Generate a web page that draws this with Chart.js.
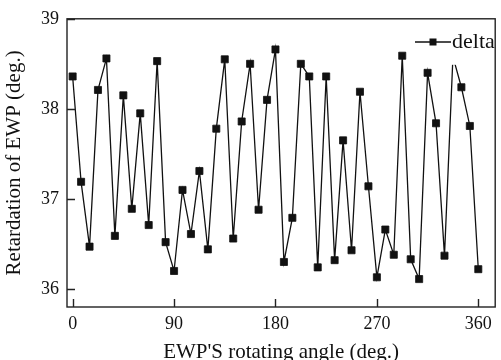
<!DOCTYPE html>
<html>
<head>
<meta charset="utf-8">
<script src="https://cdn.jsdelivr.net/npm/chart.js@4.4.1/dist/chart.umd.min.js"></script>
<style>
  html, body { margin: 0; padding: 0; background: #fff; }
  #wrap { width: 501px; height: 360px; position: relative; }
</style>
</head>
<body>
<div id="wrap"><canvas id="chart"></canvas></div>
<script>
const ANGLES = [0, 7.5, 15, 22.5, 30, 37.5, 45, 52.5, 60, 67.5, 75, 82.5, 90, 97.5, 105, 112.5,
    120, 127.5, 135, 142.5, 150, 157.5, 165, 172.5, 180, 187.5, 195, 202.5, 210, 217.5, 225, 232.5,
    240, 247.5, 255, 262.5, 270, 277.5, 285, 292.5, 300, 307.5, 315, 322.5, 330, 337.5, 345, 352.5, 360];
const DELTA = [38.36, 37.19, 36.47, 38.21, 38.56, 36.59, 38.15, 36.89, 37.95, 36.71, 38.53, 36.52,
    36.20, 37.10, 36.61, 37.31, 36.44, 37.78, 38.55, 36.56, 37.86, 38.50, 36.88, 38.10, 38.66, 36.30,
    36.79, 38.50, 38.36, 36.24, 38.36, 36.32, 37.65, 36.43, 38.19, 37.14, 36.13, 36.66, 36.38, 38.59,
    36.33, 36.11, 38.40, 37.84, 36.37, 38.58, 38.24, 37.81, 36.22];
const X_TICKS = [0, 90, 180, 270, 360];
const Y_TICKS = [36, 37, 38, 39];
const SERIES_LABEL = 'delta';

const FONT = 'Liberation Serif, Times New Roman, serif';
const INK = '#111';

// inward ticks, closed box and the in-plot legend
const framePlugin = {
    id: 'frame',
    afterDraw(chart) {
        const { ctx, chartArea: a, scales: { x, y } } = chart;
        ctx.save();

        // legend: white patch hides the line underneath, like the original
        const lx = 415, ly = 42;
        ctx.fillStyle = '#fff';
        ctx.fillRect(410, a.top + 2, a.right - 411, 44);
        ctx.strokeStyle = INK;
        ctx.lineWidth = 1.3;
        ctx.beginPath();
        ctx.moveTo(lx, ly); ctx.lineTo(lx + 36, ly);
        ctx.stroke();
        ctx.fillStyle = INK;
        ctx.fillRect(lx + 14.5, ly - 3.5, 7, 7);
        ctx.font = '22px ' + FONT;
        ctx.textBaseline = 'middle';
        ctx.fillText(SERIES_LABEL, lx + 37, ly);

        ctx.strokeStyle = '#222';
        ctx.lineWidth = 1.4;
        ctx.strokeRect(a.left, a.top, a.right - a.left, a.bottom - a.top);
        ctx.beginPath();
        X_TICKS.forEach(v => {
            const px = Math.round(x.getPixelForValue(v)) + 0.5;
            ctx.moveTo(px, a.bottom); ctx.lineTo(px, a.bottom - 8);
        });
        Y_TICKS.forEach(v => {
            const py = Math.round(y.getPixelForValue(v)) + 0.5;
            ctx.moveTo(a.left, py); ctx.lineTo(a.left + 8, py);
        });
        ctx.stroke();
        ctx.restore();
    }
};

new Chart(document.getElementById('chart'), {
    type: 'line',
    data: {
        datasets: [{
            label: SERIES_LABEL,
            data: ANGLES.map((a, i) => ({ x: a, y: DELTA[i] })),
            borderColor: INK,
            borderWidth: 1.3,
            backgroundColor: INK,
            pointStyle: 'rect',
            pointRadius: 5,
            pointBorderWidth: 0.8,
            pointBorderColor: INK,
            pointBackgroundColor: INK,
            tension: 0,
            fill: false
        }]
    },
    options: {
        responsive: true,
        maintainAspectRatio: false,
        animation: false,
        layout: { padding: { top: 17, right: 4, left: 0, bottom: 0 } },
        plugins: {
            legend: { display: false },
            tooltip: { enabled: false }
        },
        scales: {
            x: {
                type: 'linear',
                min: -5,
                max: 375,
                afterBuildTicks: s => { s.ticks = X_TICKS.map(v => ({ value: v })); },
                afterFit: s => { s.height = 53; },
                grid: { display: false, drawTicks: false },
                border: { display: false },
                ticks: { color: INK, padding: 6, maxRotation: 0, font: { family: FONT, size: 18 } },
                title: {
                    display: true,
                    text: "EWP'S rotating angle (deg.)",
                    color: INK,
                    font: { family: FONT, size: 21, lineHeight: 1 },
                    padding: { top: 0, bottom: -2.5 }
                }
            },
            y: {
                min: 35.8,
                max: 39,
                afterBuildTicks: s => { s.ticks = Y_TICKS.map(v => ({ value: v })); },
                afterFit: s => { s.width = 67; },
                grid: { display: false, drawTicks: false },
                border: { display: false },
                ticks: { color: INK, padding: 8, font: { family: FONT, size: 18 } },
                title: {
                    display: true,
                    text: 'Retardation of EWP (deg.)',
                    color: INK,
                    font: { family: FONT, size: 21 },
                    padding: { top: 2, bottom: 0 }
                }
            }
        }
    },
    plugins: [framePlugin]
});
</script>
</body>
</html>
